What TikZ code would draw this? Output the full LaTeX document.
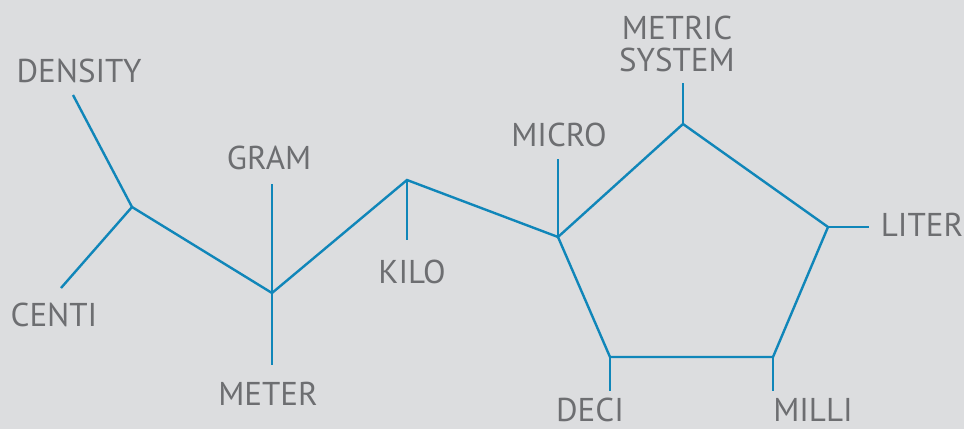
\documentclass[tikz,border=0pt]{standalone}
\usepackage{fontspec}
\setmainfont{PT Sans}
\usepackage{tikz}
\usetikzlibrary{positioning}
\definecolor{paper}{HTML}{DCDDDF}
\definecolor{unitblue}{HTML}{1086B9}
\definecolor{unitgray}{HTML}{6D6E71}

\begin{document}
\begin{tikzpicture}[x=1pt,y=-1pt,
    link/.style={unitblue, line width=2.4pt},
    word/.style={unitgray, font=\fontsize{33}{32}\selectfont, inner sep=0pt, anchor=base}]
    % Background
    \useasboundingbox (0,0) rectangle (964,429);
    \fill[paper] (0,0) rectangle (964,429);

    % Corners of the chain and the pentagon
    \foreach \n/\x/\y in {a/132/207, b/272/293, c/407/180, d/558/237, e/683/124, f/828/227, g/773/357, h/610/357} {
      \coordinate (\n) at (\x,\y);
    }

    % Free ends of the short strokes
    \foreach \n/\x/\y in {densEnd/73/95, centEnd/61/288, gramEnd/272/184, meterEnd/272/365, kiloEnd/407/240, microEnd/558/159, metricEnd/683/83, literEnd/869/227, milliEnd/773/391, deciEnd/610/391} {
      \coordinate (\n) at (\x,\y);
    }

    % Labels (placed on their baselines)
    \foreach \n/\x/\y/\t in {density/79/82/DENSITY, centi/54/326/CENTI, gram/269/169/GRAM, meter/268/405/METER, kilo/412/283/KILO, micro/559/146/MICRO, deci/590/421/DECI, milli/813/421/MILLI, liter/922/236/LITER} {
      \node[word] (\n) at (\x,\y) {\t};
    }
    \node[word, align=center] (metric) at (677,71) {METRIC\\SYSTEM};

    % Draw the chain
    \draw[link] (densEnd) -- (a) -- (centEnd);
    \draw[link] (a) -- (b) -- (c) -- (d);
    \draw[link] (gramEnd) -- (meterEnd);
    \draw[link] (c) -- (kiloEnd);
    \draw[link] (d) -- (microEnd);

    % Draw the pentagon and its strokes
    \draw[link] (d) -- (e) -- (f) -- (g) -- (h) -- cycle;
    \draw[link] (e) -- (metricEnd);
    \draw[link] (f) -- (literEnd);
    \draw[link] (g) -- (milliEnd);
    \draw[link] (h) -- (deciEnd);
\end{tikzpicture}
\end{document}
